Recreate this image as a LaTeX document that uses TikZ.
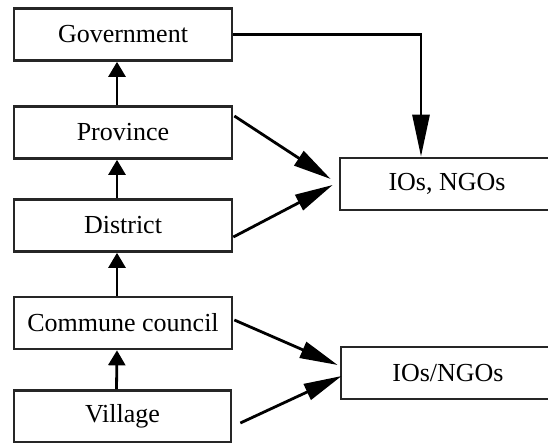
\documentclass[tikz,border=0pt]{standalone}
\usepackage{fontspec}
\setmainfont{Liberation Serif}
\usetikzlibrary{arrows.meta}
\tikzset{
  box/.style={draw=black!85, line width=2.7pt, fill=white, inner sep=0pt,
    minimum width=218pt, minimum height=52pt, font=\fontsize{26}{30}\selectfont},
  iobox/.style={box, minimum width=214pt},
  conn/.style={line width=2.8pt, black},
  upar/.style={conn, -{Triangle[length=15pt,width=17pt]}},
  downar/.style={conn, -{Triangle[length=42pt,width=17pt]}},
  diagar/.style={conn, -{Triangle[length=38pt,width=17pt]}}
}
\begin{document}
\begin{tikzpicture}[x=1pt,y=-1pt]
\useasboundingbox (0,0) rectangle (548,443);
\node[box] (gov) at (123,34.5) {Government};
\node[box] (prov) at (123,132.5) {Province};
\node[box] (dist) at (123,225.5) {District};
\node[box] (comm) at (123,323) {Commune council};
\node[box, minimum width=217pt] (vill) at (122.5,416.5) {Village};
\node[iobox] (io1) at (447,184) {IOs, NGOs};
\node[iobox] (io2) at (448,373) {IOs/NGOs};
% vertical arrows
\draw[upar] ([xshift=-6pt]prov.north) -- ([xshift=-6pt]gov.south);
\draw[upar] ([xshift=-6pt]dist.north) -- ([xshift=-6pt]prov.south);
\draw[upar] ([xshift=-6pt]comm.north) -- ([xshift=-6pt]dist.south);
\draw[upar] ([xshift=-6pt]vill.north) -- ([xshift=-6pt]comm.south);
% government to IOs
\draw[downar] (gov.east) -| ([xshift=-26pt]io1.north);
% diagonals
\draw[diagar] ([xshift=1pt,yshift=16.5pt]prov.east) -- ([xshift=-8pt,yshift=5pt]io1.west);
\draw[diagar] ([yshift=-11.5pt]dist.east) -- ([xshift=-6pt,yshift=-1pt]io1.west);
\draw[diagar] ([xshift=1pt,yshift=3pt]comm.east) -- ([xshift=-2pt,yshift=8pt]io2.west);
\draw[diagar] ([xshift=8pt,yshift=-6.5pt]vill.east) -- ([xshift=2pt,yshift=-3pt]io2.west);
\end{tikzpicture}
\end{document}
